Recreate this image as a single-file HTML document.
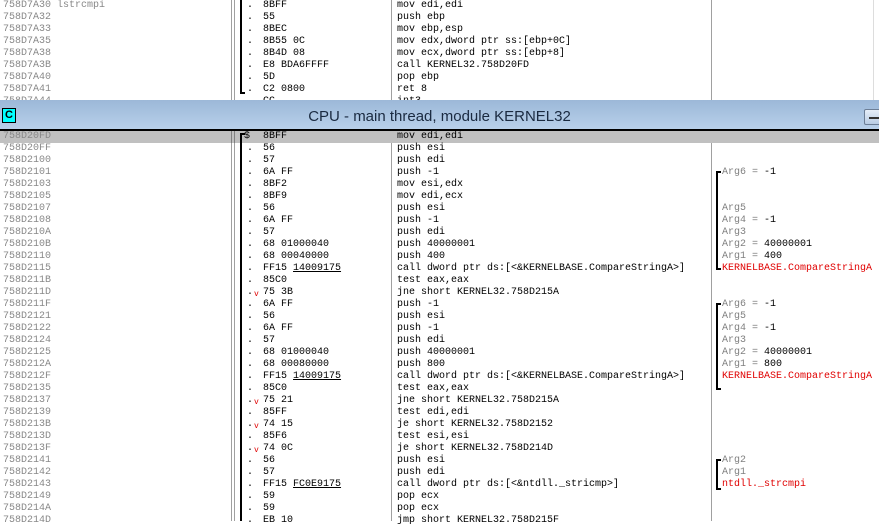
<!DOCTYPE html>
<html><head><meta charset="utf-8"><style>
body{margin:0;width:879px;height:521px;overflow:hidden;background:#fff;font-family:"Liberation Mono",monospace;font-size:10px;position:relative}
.r{position:absolute;left:0;width:879px;height:12px;line-height:12px;white-space:pre}
.r span{position:absolute;top:0}
.a{left:3px;color:#888}
.d{left:247px;color:#000}
.h{left:263px;color:#000}
.i{left:397px;color:#000}
.c{left:722px;color:#000}
.g{color:#808080}
.red{color:#e00000}
.v{left:254px;color:#e00000;font-size:8px;top:2px!important}
.vl{position:absolute;background:#a0a0a0;width:1px}
.bk{position:absolute;background:#000}
</style></head><body>
<div class="vl" style="left:231px;top:0;height:100px"></div>
<div class="vl" style="left:234px;top:0;height:100px"></div>
<div class="vl" style="left:391px;top:0;height:100px"></div>
<div class="vl" style="left:711px;top:0;height:100px"></div>
<div class="vl" style="left:873px;top:0;height:100px;background:#ddd"></div>
<div class="vl" style="left:231px;top:131px;height:390px"></div>
<div class="vl" style="left:234px;top:131px;height:390px"></div>
<div class="vl" style="left:391px;top:131px;height:390px"></div>
<div class="vl" style="left:711px;top:131px;height:390px"></div>
<div class="bk" style="left:240px;top:0;width:2px;height:94px"></div>
<div class="bk" style="left:240px;top:92px;width:5px;height:2px"></div>
<div class="r" style="top:0"><span class="a">758D7A30 lstrcmpi</span><span class="d">.</span><span class="h">8BFF</span><span class="i">mov edi,edi</span></div>
<div class="r" style="top:12px"><span class="a">758D7A32</span><span class="d">.</span><span class="h">55</span><span class="i">push ebp</span></div>
<div class="r" style="top:24px"><span class="a">758D7A33</span><span class="d">.</span><span class="h">8BEC</span><span class="i">mov ebp,esp</span></div>
<div class="r" style="top:36px"><span class="a">758D7A35</span><span class="d">.</span><span class="h">8B55 0C</span><span class="i">mov edx,dword ptr ss:[ebp+0C]</span></div>
<div class="r" style="top:48px"><span class="a">758D7A38</span><span class="d">.</span><span class="h">8B4D 08</span><span class="i">mov ecx,dword ptr ss:[ebp+8]</span></div>
<div class="r" style="top:60px"><span class="a">758D7A3B</span><span class="d">.</span><span class="h">E8 BDA6FFFF</span><span class="i">call KERNEL32.758D20FD</span></div>
<div class="r" style="top:72px"><span class="a">758D7A40</span><span class="d">.</span><span class="h">5D</span><span class="i">pop ebp</span></div>
<div class="r" style="top:84px"><span class="a">758D7A41</span><span class="d">.</span><span class="h">C2 0800</span><span class="i">ret 8</span></div>
<div class="r" style="top:96px"><span class="a">758D7A44</span><span class="h">CC</span><span class="i">int3</span></div>
<div style="position:absolute;left:0;top:100px;width:879px;height:29px;background:linear-gradient(#9cb8d8,#b8d0ea);"></div>
<div style="position:absolute;left:2px;top:108px;width:12px;height:13px;background:#00ffff;border:1px solid #000;font:bold 11px 'Liberation Sans',sans-serif;line-height:13px;text-align:center;color:#000">C</div>
<div style="position:absolute;left:0;top:102px;width:879px;height:29px;text-align:center;font:15px 'Liberation Sans',sans-serif;line-height:29px;color:#1a2a40">CPU - main thread, module KERNEL32</div>
<div style="position:absolute;left:864px;top:109px;width:20px;height:14px;border:1px solid #6c7e96;border-radius:2px;background:linear-gradient(#e6eef8,#b8cce4)"></div>
<div style="position:absolute;left:869px;top:117px;width:10px;height:2px;background:#333"></div>
<div class="bk" style="left:0;top:129px;width:879px;height:2px"></div>
<div style="position:absolute;left:0;top:131px;width:879px;height:12px;background:#c0c0c0"></div>
<div class="vl" style="left:231px;top:131px;height:12px;background:#808080"></div>
<div class="vl" style="left:234px;top:131px;height:12px;background:#808080"></div>
<div class="bk" style="left:240px;top:133px;width:2px;height:388px"></div>
<div class="bk" style="left:240px;top:133px;width:5px;height:2px"></div>
<div class="bk" style="left:716px;top:171px;width:2px;height:99px"></div><div class="bk" style="left:716px;top:171px;width:5px;height:2px"></div><div class="bk" style="left:716px;top:268px;width:5px;height:2px"></div>
<div class="bk" style="left:716px;top:303px;width:2px;height:87px"></div><div class="bk" style="left:716px;top:303px;width:5px;height:2px"></div><div class="bk" style="left:716px;top:388px;width:5px;height:2px"></div>
<div class="bk" style="left:716px;top:459px;width:2px;height:31px"></div><div class="bk" style="left:716px;top:459px;width:5px;height:2px"></div><div class="bk" style="left:716px;top:488px;width:5px;height:2px"></div>

<div class="r" style="top:131px"><span class="a">758D20FD</span><span class="d" style="left:244px">$</span><span class="h">8BFF</span><span class="i">mov edi,edi</span></div>
<div class="r" style="top:143px"><span class="a">758D20FF</span><span class="d">.</span><span class="h">56</span><span class="i">push esi</span></div>
<div class="r" style="top:155px"><span class="a">758D2100</span><span class="d">.</span><span class="h">57</span><span class="i">push edi</span></div>
<div class="r" style="top:167px"><span class="a">758D2101</span><span class="d">.</span><span class="h">6A FF</span><span class="i">push -1</span><span class="c"><span class="g" style="position:static">Arg6 = </span>-1</span></div>
<div class="r" style="top:179px"><span class="a">758D2103</span><span class="d">.</span><span class="h">8BF2</span><span class="i">mov esi,edx</span></div>
<div class="r" style="top:191px"><span class="a">758D2105</span><span class="d">.</span><span class="h">8BF9</span><span class="i">mov edi,ecx</span></div>
<div class="r" style="top:203px"><span class="a">758D2107</span><span class="d">.</span><span class="h">56</span><span class="i">push esi</span><span class="c g">Arg5</span></div>
<div class="r" style="top:215px"><span class="a">758D2108</span><span class="d">.</span><span class="h">6A FF</span><span class="i">push -1</span><span class="c"><span class="g" style="position:static">Arg4 = </span>-1</span></div>
<div class="r" style="top:227px"><span class="a">758D210A</span><span class="d">.</span><span class="h">57</span><span class="i">push edi</span><span class="c g">Arg3</span></div>
<div class="r" style="top:239px"><span class="a">758D210B</span><span class="d">.</span><span class="h">68 01000040</span><span class="i">push 40000001</span><span class="c"><span class="g" style="position:static">Arg2 = </span>40000001</span></div>
<div class="r" style="top:251px"><span class="a">758D2110</span><span class="d">.</span><span class="h">68 00040000</span><span class="i">push 400</span><span class="c"><span class="g" style="position:static">Arg1 = </span>400</span></div>
<div class="r" style="top:263px"><span class="a">758D2115</span><span class="d">.</span><span class="h">FF15 <u>14009175</u></span><span class="i">call dword ptr ds:[&lt;&amp;KERNELBASE.CompareStringA&gt;]</span><span class="c red">KERNELBASE.CompareStringA</span></div>
<div class="r" style="top:275px"><span class="a">758D211B</span><span class="d">.</span><span class="h">85C0</span><span class="i">test eax,eax</span></div>
<div class="r" style="top:287px"><span class="a">758D211D</span><span class="d">.</span><span class="v">v</span><span class="h">75 3B</span><span class="i">jne short KERNEL32.758D215A</span></div>
<div class="r" style="top:299px"><span class="a">758D211F</span><span class="d">.</span><span class="h">6A FF</span><span class="i">push -1</span><span class="c"><span class="g" style="position:static">Arg6 = </span>-1</span></div>
<div class="r" style="top:311px"><span class="a">758D2121</span><span class="d">.</span><span class="h">56</span><span class="i">push esi</span><span class="c g">Arg5</span></div>
<div class="r" style="top:323px"><span class="a">758D2122</span><span class="d">.</span><span class="h">6A FF</span><span class="i">push -1</span><span class="c"><span class="g" style="position:static">Arg4 = </span>-1</span></div>
<div class="r" style="top:335px"><span class="a">758D2124</span><span class="d">.</span><span class="h">57</span><span class="i">push edi</span><span class="c g">Arg3</span></div>
<div class="r" style="top:347px"><span class="a">758D2125</span><span class="d">.</span><span class="h">68 01000040</span><span class="i">push 40000001</span><span class="c"><span class="g" style="position:static">Arg2 = </span>40000001</span></div>
<div class="r" style="top:359px"><span class="a">758D212A</span><span class="d">.</span><span class="h">68 00080000</span><span class="i">push 800</span><span class="c"><span class="g" style="position:static">Arg1 = </span>800</span></div>
<div class="r" style="top:371px"><span class="a">758D212F</span><span class="d">.</span><span class="h">FF15 <u>14009175</u></span><span class="i">call dword ptr ds:[&lt;&amp;KERNELBASE.CompareStringA&gt;]</span><span class="c red">KERNELBASE.CompareStringA</span></div>
<div class="r" style="top:383px"><span class="a">758D2135</span><span class="d">.</span><span class="h">85C0</span><span class="i">test eax,eax</span></div>
<div class="r" style="top:395px"><span class="a">758D2137</span><span class="d">.</span><span class="v">v</span><span class="h">75 21</span><span class="i">jne short KERNEL32.758D215A</span></div>
<div class="r" style="top:407px"><span class="a">758D2139</span><span class="d">.</span><span class="h">85FF</span><span class="i">test edi,edi</span></div>
<div class="r" style="top:419px"><span class="a">758D213B</span><span class="d">.</span><span class="v">v</span><span class="h">74 15</span><span class="i">je short KERNEL32.758D2152</span></div>
<div class="r" style="top:431px"><span class="a">758D213D</span><span class="d">.</span><span class="h">85F6</span><span class="i">test esi,esi</span></div>
<div class="r" style="top:443px"><span class="a">758D213F</span><span class="d">.</span><span class="v">v</span><span class="h">74 0C</span><span class="i">je short KERNEL32.758D214D</span></div>
<div class="r" style="top:455px"><span class="a">758D2141</span><span class="d">.</span><span class="h">56</span><span class="i">push esi</span><span class="c g">Arg2</span></div>
<div class="r" style="top:467px"><span class="a">758D2142</span><span class="d">.</span><span class="h">57</span><span class="i">push edi</span><span class="c g">Arg1</span></div>
<div class="r" style="top:479px"><span class="a">758D2143</span><span class="d">.</span><span class="h">FF15 <u>FC0E9175</u></span><span class="i">call dword ptr ds:[&lt;&amp;ntdll._stricmp&gt;]</span><span class="c red">ntdll._strcmpi</span></div>
<div class="r" style="top:491px"><span class="a">758D2149</span><span class="d">.</span><span class="h">59</span><span class="i">pop ecx</span></div>
<div class="r" style="top:503px"><span class="a">758D214A</span><span class="d">.</span><span class="h">59</span><span class="i">pop ecx</span></div>
<div class="r" style="top:515px"><span class="a">758D214D</span><span class="d">.</span><span class="h">EB 10</span><span class="i">jmp short KERNEL32.758D215F</span></div>
</body></html>
